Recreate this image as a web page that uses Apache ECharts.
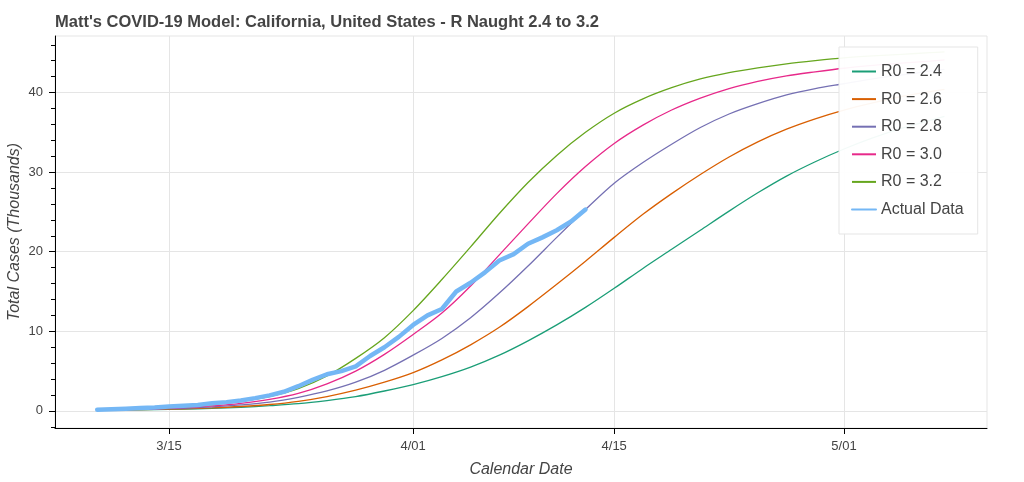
<!DOCTYPE html>
<html><head><meta charset="utf-8">
<script src="https://cdn.jsdelivr.net/npm/echarts@6.0.0/dist/echarts.min.js"></script>
<style>html,body{margin:0;padding:0;background:#fff}#c{width:1024px;height:482px}</style>
</head><body><div id="c"></div>
<script>
// ---- data ----
const modelDates = ['2020-03-10','2020-03-12','2020-03-14','2020-03-16','2020-03-18','2020-03-20','2020-03-22','2020-03-24','2020-03-26','2020-03-28','2020-03-30','2020-04-01','2020-04-03','2020-04-05','2020-04-07','2020-04-09','2020-04-11','2020-04-13','2020-04-15','2020-04-17','2020-04-19','2020-04-21','2020-04-23','2020-04-25','2020-04-27','2020-04-29','2020-05-01','2020-05-03','2020-05-05','2020-05-07','2020-05-08'];
const r24 = [0.09,0.12,0.16,0.22,0.32,0.45,0.65,0.9,1.3,1.8,2.5,3.3,4.3,5.5,7.0,8.8,10.8,13.0,15.4,17.9,20.3,22.7,25.1,27.4,29.5,31.3,32.9,34.3,35.5,36.5,37.0];
const r26 = [0.1,0.14,0.19,0.27,0.38,0.55,0.8,1.2,1.8,2.6,3.6,4.8,6.4,8.3,10.5,13.1,15.9,18.8,21.8,24.7,27.3,29.7,31.9,33.8,35.4,36.7,37.8,38.7,39.5,40.1,40.4];
const r28 = [0.12,0.16,0.23,0.33,0.5,0.75,1.1,1.7,2.5,3.6,5.1,7.0,9.1,11.7,14.8,18.2,21.8,25.3,28.6,31.2,33.5,35.6,37.3,38.6,39.7,40.5,41.1,41.7,42.2,42.7,42.9];
const r30 = [0.13,0.18,0.27,0.4,0.62,0.95,1.45,2.2,3.4,5.0,7.1,9.6,12.3,15.7,19.6,23.5,27.3,30.7,33.6,35.9,37.8,39.3,40.5,41.4,42.1,42.6,43.05,43.4,43.7,43.95,44.1];
const r32 = [0.15,0.22,0.35,0.5,0.8,1.2,1.8,2.8,4.4,6.6,9.2,12.6,16.5,20.6,24.8,28.7,32.1,35.0,37.4,39.2,40.6,41.7,42.5,43.1,43.6,44.0,44.35,44.6,44.8,45.0,45.1];
const actualDates = ['2020-03-10','2020-03-11','2020-03-12','2020-03-13','2020-03-14','2020-03-15','2020-03-16','2020-03-17','2020-03-18','2020-03-19','2020-03-20','2020-03-21','2020-03-22','2020-03-23','2020-03-24','2020-03-25','2020-03-26','2020-03-27','2020-03-28','2020-03-29','2020-03-30','2020-03-31','2020-04-01','2020-04-02','2020-04-03','2020-04-04','2020-04-05','2020-04-06','2020-04-07','2020-04-08','2020-04-09','2020-04-10','2020-04-11','2020-04-12','2020-04-13'];
const actual = [0.15,0.2,0.27,0.35,0.42,0.55,0.65,0.75,0.95,1.1,1.3,1.6,1.95,2.4,3.1,3.9,4.6,5.0,5.6,6.9,8.0,9.3,10.8,12.0,12.8,15.0,16.1,17.4,18.9,19.7,21.0,21.8,22.7,23.8,25.3];
const seriesNames = ['R0 = 2.4','R0 = 2.6','R0 = 2.8','R0 = 3.0','R0 = 3.2'];
const xTickDates = ['2020-03-15','2020-04-01','2020-04-15','2020-05-01'];
const yTicks = [0,10,20,30,40];
const yMinorTicks = [-2,0,2,4,6,8,10,12,14,16,18,20,22,24,26,28,30,32,34,36,38,40,42,44,46];

// ---- helpers ----
const DAY = 86400000;
const ts = s => Date.parse(s + 'T00:00:00Z');
const pair = (dates, vals) => dates.map((d, i) => [ts(d), vals[i]]);
const fmt = v => { const d = new Date(v); return (d.getUTCMonth() + 1) + '/' + String(d.getUTCDate()).padStart(2, '0'); };
const colors = ['#1b9e77','#d95f02','#7570b3','#e7298a','#66a61e'];
const modelVals = [r24, r26, r28, r30, r32];
const FONT = 'Liberation Sans, Arial, Helvetica, sans-serif';

const chart = echarts.init(document.getElementById('c'), null, {renderer: 'canvas'});
const series = modelVals.map((vals, i) => ({
  name: seriesNames[i], type: 'line', data: pair(modelDates, vals),
  symbol: 'none', smooth: 0.3, lineStyle: {color: colors[i], width: 1.3}, itemStyle: {color: colors[i]},
  z: 2
}));
series.push({
  name: 'Actual Data', type: 'line', data: pair(actualDates, actual),
  symbol: 'none', smooth: false, lineStyle: {color: '#74b7f5', width: 4.5, join: 'round', cap: 'round'},
  itemStyle: {color: '#74b7f5'}, z: 3
});

chart.setOption({
  animation: false,
  backgroundColor: '#fff',
  title: {
    text: "Matt's COVID-19 Model: California, United States - R Naught 2.4 to 3.2",
    left: 50, top: 9,
    textStyle: {fontFamily: FONT, fontSize: 16.5, fontWeight: 'bold', color: '#444444'}
  },
  grid: {left: 55, right: 37, top: 36, bottom: 54, outerBoundsMode: 'none', containLabel: false,
    show: true, borderColor: '#e5e5e5', borderWidth: 1, backgroundColor: 'transparent'},
  legend: {
    orient: 'vertical', left: 839, top: 47,
    padding: [16.5, 14, 16.5, 12],
    itemWidth: 24, itemHeight: 14, itemGap: 11.6,
    backgroundColor: 'rgba(255,255,255,0.95)', borderColor: '#e5e5e5', borderWidth: 1, borderRadius: 0,
    itemStyle: {color: 'rgba(0,0,0,0)', borderWidth: 0, opacity: 0},
    textStyle: {fontFamily: FONT, fontSize: 16, color: '#444444', lineHeight: 16},
    data: seriesNames.concat(['Actual Data'])
  },
  xAxis: {
    type: 'value',
    min: ts('2020-03-15') - 7.94 * DAY, max: ts('2020-05-01') + 9.96 * DAY,
    name: 'Calendar Date', nameLocation: 'middle', nameGap: 34,
    nameTextStyle: {fontFamily: FONT, fontSize: 16, fontStyle: 'italic', color: '#444444'},
    axisLine: {show: true, onZero: false, lineStyle: {color: '#000', width: 1}},
    axisTick: {show: true, length: 6, customValues: xTickDates.map(ts), lineStyle: {color: '#000'}},
    axisLabel: {customValues: xTickDates.map(ts), formatter: fmt, margin: 12, fontFamily: FONT, fontSize: 13, color: '#444444'},
    splitLine: {show: true, lineStyle: {color: '#e5e5e5', width: 1}}
  },
  yAxis: [{
    type: 'value', min: -2.15, max: 47.1,
    name: 'Total Cases (Thousands)', nameLocation: 'middle', nameGap: 32, nameMoveOverlap: false,
    nameTextStyle: {fontFamily: FONT, fontSize: 16, fontStyle: 'italic', color: '#444444'},
    axisLine: {show: true, onZero: false, lineStyle: {color: '#000', width: 1}},
    axisTick: {show: true, length: 6, customValues: yTicks, lineStyle: {color: '#000'}},
    axisLabel: {customValues: yTicks, margin: 12, fontFamily: FONT, fontSize: 13, color: '#444444'},
    splitLine: {show: true, lineStyle: {color: '#e5e5e5', width: 1}}
  }, {
    type: 'value', min: -2.15, max: 47.1, position: 'left', offset: 0,
    axisLine: {show: false}, axisLabel: {show: false}, splitLine: {show: false},
    axisTick: {show: true, length: 4, customValues: yMinorTicks, lineStyle: {color: '#000'}}
  }],
  series: series
});
</script></body></html>
